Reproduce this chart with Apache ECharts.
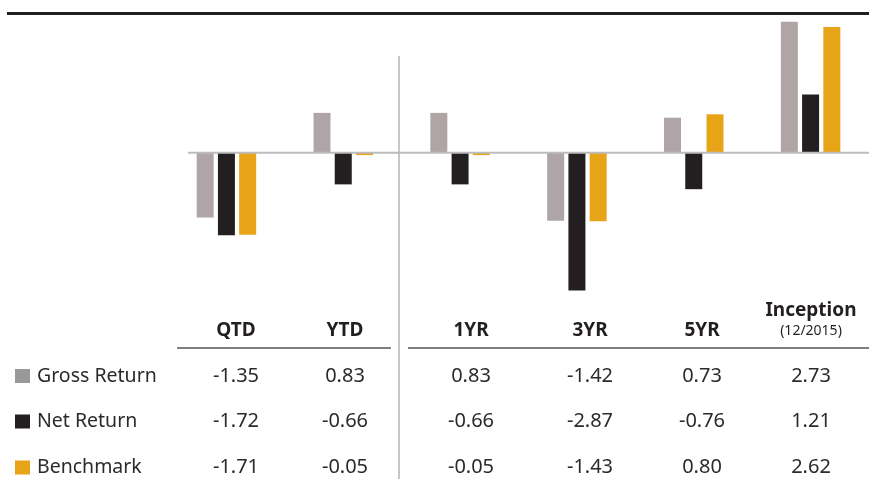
<!DOCTYPE html>
<html>
<head>
<meta charset="utf-8">
<script src="https://cdn.jsdelivr.net/npm/echarts@6/dist/echarts.min.js"></script>
<style>
  html, body { margin: 0; padding: 0; background: #fff; }
  #main { width: 869px; height: 479px; }
</style>
</head>
<body>
<div id="main"></div>
<script>
// data
var periods = ['QTD', 'YTD', '1YR', '3YR', '5YR', 'Inception'];
var inceptionDate = '(12/2015)';
var seriesNames = ['Gross Return', 'Net Return', 'Benchmark'];
var grossReturn = [-1.35, 0.83, 0.83, -1.42, 0.73, 2.73];
var netReturn = [-1.72, -0.66, -0.66, -2.87, -0.76, 1.21];
var benchmark = [-1.71, -0.05, -0.05, -1.43, 0.80, 2.62];

// styling / layout
var barColors = ['#afa5a6', '#231f20', '#e8a417'];
var keyColors = ['#999999', '#231f20', '#e8a417'];
var colX = [236, 345, 471, 590, 702, 811];
var rowY = [376, 421.5, 467.5];
var font = '"Noto Sans", "Open Sans", sans-serif';

var chart = echarts.init(document.getElementById('main'));

var allSeries = [grossReturn, netReturn, benchmark].map(function(vals, i) {
    return {
        name: seriesNames[i],
        type: 'bar',
        data: vals,
        barWidth: 17,
        barGap: '25%',
        itemStyle: { color: barColors[i] },
        silent: true
    };
});

chart.setOption({
    animation: false,
    grid: { left: 168, width: 702, top: 8.7, height: 288 },
    xAxis: {
        type: 'category',
        data: periods,
        axisLine: { show: false },
        axisTick: { show: false },
        axisLabel: { show: false }
    },
    yAxis: {
        type: 'value',
        min: -3,
        max: 3,
        show: false,
        splitLine: { show: false }
    },
    series: allSeries
});

// lines and the table underneath
var y0 = chart.convertToPixel({ yAxisIndex: 0 }, 0);
var g = [];

function line(x1, y1, x2, y2, color, w) {
    g.push({ type: 'line', silent: true, z: 10,
        shape: { x1: x1, y1: y1, x2: x2, y2: y2 },
        style: { stroke: color, lineWidth: w } });
}
function text(str, x, y, size, weight, color, align) {
    g.push({ type: 'text', silent: true, z: 11,
        style: { text: str, x: x, y: y, fill: color, align: align || 'center', verticalAlign: 'middle',
            font: (weight || 'normal') + ' ' + size + 'px ' + font } });
}

line(7, 13.5, 869, 13.5, '#231f20', 3);
line(188, y0, 869, y0, '#bcbcbc', 2);
line(399, 56, 399, 479, '#b4b4b4', 1.5);
line(177, 348, 391, 348, '#555555', 1.5);
line(408, 348, 869, 348, '#555555', 1.5);

periods.forEach(function(p, i) {
    if (p === 'Inception') {
        text(p, colX[i], 311, 19, 'bold', '#231f20');
        text(inceptionDate, colX[i], 331, 14, 'normal', '#231f20');
    } else {
        text(p, colX[i], 331, 19, 'bold', '#231f20');
    }
});

[grossReturn, netReturn, benchmark].forEach(function(vals, r) {
    g.push({ type: 'rect', silent: true, z: 11,
        shape: { x: 15, y: rowY[r] - 7, width: 15, height: 14 },
        style: { fill: keyColors[r] } });
    text(seriesNames[r], 37, rowY[r], 19.5, 'normal', '#2b2b2b', 'left');
    vals.forEach(function(v, i) {
        text(v.toFixed(2), colX[i], rowY[r], 20, 'normal', '#2b2b2b');
    });
});

chart.setOption({ graphic: g });
</script>
</body>
</html>
